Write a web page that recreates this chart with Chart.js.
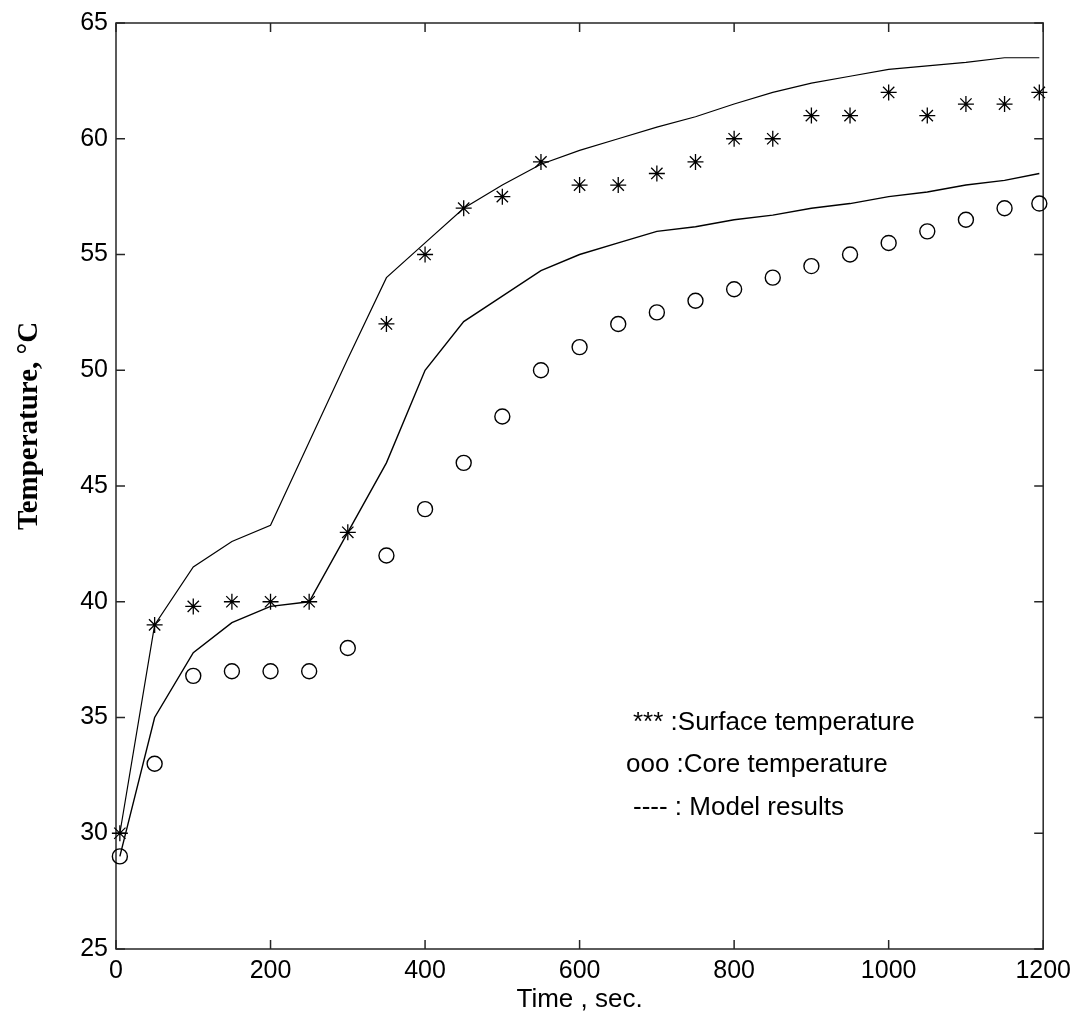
<!DOCTYPE html>
<html>
<head>
<meta charset="utf-8">
<script src="https://cdn.jsdelivr.net/npm/chart.js@4/dist/chart.umd.min.js"></script>
<style>
  html, body { margin: 0; padding: 0; background: #fff; }
  #wrap { width: 1078px; height: 1020px; }
</style>
</head>
<body>
<div id="wrap"><canvas id="c" width="1078" height="1020"></canvas></div>
<script>
// ---- data ----
const timeSec = [5, 50, 100, 150, 200, 250, 300, 350, 400, 450, 500, 550, 600, 650, 700, 750, 800, 850, 900, 950, 1000, 1050, 1100, 1150, 1195];
const surfaceMeasured = [30, 39, 39.8, 40, 40, 40, 43, 52, 55, 57, 57.5, 59, 58, 58, 58.5, 59, 60, 60, 61, 61, 62, 61, 61.5, 61.5, 62];
const coreMeasured = [29, 33, 36.8, 37, 37, 37, 38, 42, 44, 46, 48, 50, 51, 52, 52.5, 53, 53.5, 54, 54.5, 55, 55.5, 56, 56.5, 57, 57.2];
const surfaceModel = [30, 39, 41.5, 42.6, 43.3, 46.9, 50.5, 54, 55.5, 57, 58, 58.9, 59.5, 60, 60.5, 60.95, 61.5, 62, 62.4, 62.7, 63, 63.15, 63.3, 63.5, 63.5];
const coreModel = [29, 35, 37.8, 39.1, 39.8, 40, 43, 46, 50, 52.1, 53.2, 54.3, 55, 55.5, 56, 56.2, 56.5, 56.7, 57, 57.2, 57.5, 57.7, 58, 58.2, 58.5];
const xTicks = [0, 200, 400, 600, 800, 1000, 1200];
const yTicks = [25, 30, 35, 40, 45, 50, 55, 60, 65];
const legendLines = ["*** :Surface temperature", "ooo :Core temperature", "---- : Model results"];
const xTitle = "Time , sec.";
const yTitle = "Temperature, \u00B0C";

const pts = (ys) => timeSec.map((t, i) => ({ x: t, y: ys[i] }));

const decor = {
  id: 'decor',
  beforeDatasetsDraw(chart) {
    const { ctx, chartArea: a, scales } = chart;
    ctx.save();
    ctx.strokeStyle = '#262626';
    ctx.lineWidth = 1.5;
    ctx.strokeRect(a.left, a.top, a.right - a.left, a.bottom - a.top);
    const L = 9;
    ctx.beginPath();
    xTicks.forEach(v => {
      const px = scales.x.getPixelForValue(v);
      ctx.moveTo(px, a.bottom); ctx.lineTo(px, a.bottom - L);
      ctx.moveTo(px, a.top); ctx.lineTo(px, a.top + L);
    });
    yTicks.forEach(v => {
      const py = scales.y.getPixelForValue(v);
      ctx.moveTo(a.left, py); ctx.lineTo(a.left + L, py);
      ctx.moveTo(a.right, py); ctx.lineTo(a.right - L, py);
    });
    ctx.stroke();
    ctx.restore();
  },
  afterDraw(chart) {
    const { ctx, chartArea: a } = chart;
    ctx.save();
    ctx.fillStyle = '#000';
    ctx.textBaseline = 'middle';
    // x title
    ctx.font = '26px "Liberation Sans", Arial, sans-serif';
    ctx.textAlign = 'center';
    ctx.fillText(xTitle, (a.left + a.right) / 2, 1000);
    // y title (bold serif, rotated)
    ctx.save();
    ctx.translate(37, 530);
    ctx.rotate(-Math.PI / 2);
    ctx.font = 'bold 29px "Liberation Serif", "Times New Roman", serif';
    ctx.textAlign = 'left';
    ctx.textBaseline = 'alphabetic';
    ctx.fillText(yTitle, 0, 0);
    ctx.restore();
    // in-plot legend text
    ctx.font = '26px "Liberation Sans", Arial, sans-serif';
    ctx.textAlign = 'left';
    ctx.textBaseline = 'middle';
    const lx = [633, 626, 633];
    const ly = [723, 765, 808];
    legendLines.forEach((t, i) => ctx.fillText(t, lx[i], ly[i]));
    ctx.restore();
  }
};

const tickFont = { family: '"Liberation Sans", Arial, sans-serif', size: 25 };

new Chart(document.getElementById('c'), {
  type: 'scatter',
  data: {
    datasets: [
      { label: 'Surface model', data: pts(surfaceModel), showLine: true, borderColor: '#000', borderWidth: 1.2, pointRadius: 0, fill: false, clip: false },
      { label: 'Core model', data: pts(coreModel), showLine: true, borderColor: '#000', borderWidth: 1.4, pointRadius: 0, fill: false, clip: false },
      { label: 'Surface temperature', data: pts(surfaceMeasured), showLine: false, pointStyle: 'star', pointRadius: 8, borderColor: '#000', borderWidth: 1.3, backgroundColor: 'transparent', clip: false },
      { label: 'Core temperature', data: pts(coreMeasured), showLine: false, pointStyle: 'circle', pointRadius: 7.5, borderColor: '#000', borderWidth: 1.4, backgroundColor: 'rgba(0,0,0,0)', clip: false }
    ]
  },
  options: {
    responsive: false,
    animation: false,
    layout: { padding: { top: 19.5, right: 31, left: 0, bottom: 0 } },
    plugins: { legend: { display: false }, tooltip: { enabled: false } },
    scales: {
      x: {
        type: 'linear', min: 0, max: 1200,
        afterFit(s) { s.height = 71; },
        afterBuildTicks(s) { s.ticks = xTicks.map(v => ({ value: v })); },
        grid: { display: false, drawTicks: false },
        border: { display: false },
        ticks: { padding: 7, color: '#000', font: tickFont, maxRotation: 0, autoSkip: false, callback: v => String(v) }
      },
      y: {
        type: 'linear', min: 25, max: 65,
        afterFit(s) { s.width = 116; },
        afterBuildTicks(s) { s.ticks = yTicks.map(v => ({ value: v })); },
        grid: { display: false, drawTicks: false },
        border: { display: false },
        ticks: { padding: 8, color: '#000', font: tickFont, autoSkip: false, callback: v => String(v) }
      }
    }
  },
  plugins: [decor]
});
</script>
</body>
</html>
